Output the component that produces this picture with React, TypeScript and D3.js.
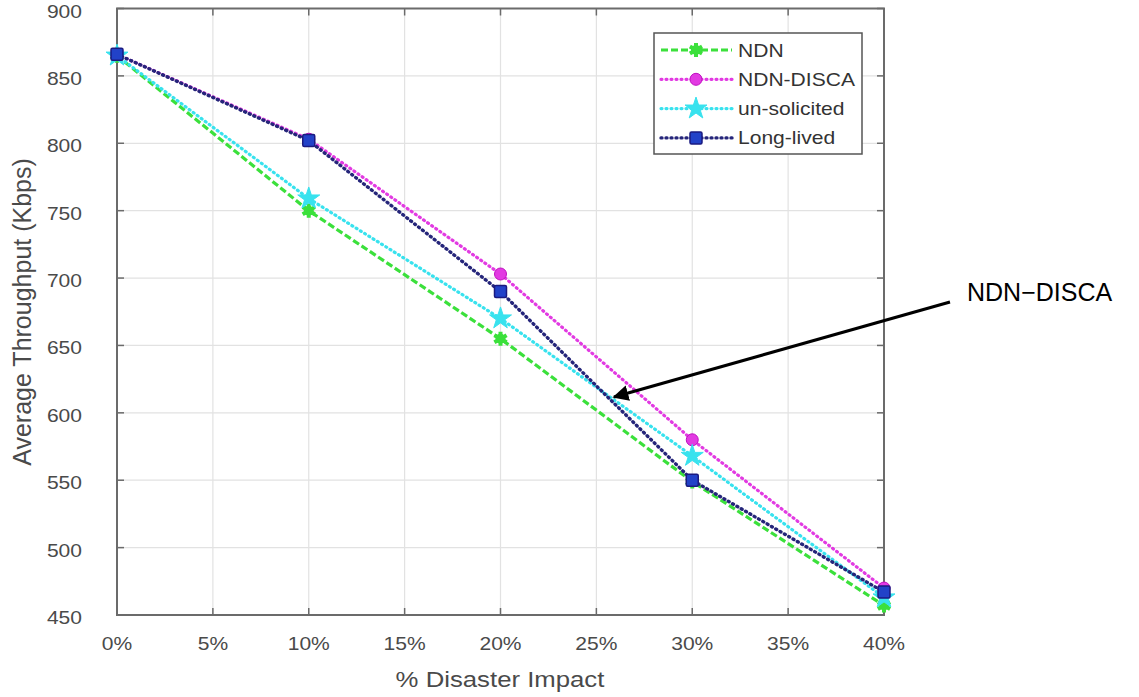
import React from "react";
import * as d3 from "d3";

const impact = [0, 10, 20, 30, 40];
const ndn = [865, 750, 655, 549, 457];
const ndnDisca = [866, 803, 703, 580, 470];
const unsolicited = [865, 759, 670, 568, 463];
const longLived = [866, 802, 690, 550, 467];

const xTicks = [0, 5, 10, 15, 20, 25, 30, 35, 40];
const yTicks = [450, 500, 550, 600, 650, 700, 750, 800, 850, 900];

const series = [
  { name: "NDN", values: ndn, color: "#3be03b", dash: "7,3", width: 3.2, marker: "asterisk" },
  { name: "NDN-DISCA", values: ndnDisca, color: "#e23ae2", dash: "1,4", width: 3.2, marker: "circle" },
  { name: "un-solicited", values: unsolicited, color: "#38e2ee", dash: "1,4", width: 3.2, marker: "star" },
  { name: "Long-lived", values: longLived, color: "#25257a", dash: "1,4", width: 3.4, marker: "square" },
];

const FONT = "'Liberation Sans', Arial, Helvetica, sans-serif";
const STRETCH = 1.17;

function Marker({ kind, x, y, color }: { kind: string; x: number; y: number; color: string }) {
  if (kind === "circle") {
    return <circle cx={x} cy={y} r={6} fill={color} stroke="#c010c0" strokeWidth={1} />;
  }
  if (kind === "square") {
    return (
      <rect x={x - 6} y={y - 6} width={12} height={12} fill="#2242c8" stroke="#1a1a80" strokeWidth={1.5} rx={1.5} />
    );
  }
  if (kind === "star") {
    const d = d3.symbol(d3.symbolStar, 150)() ?? "";
    return <path d={d} transform={`translate(${x},${y})`} fill={color} stroke={color} strokeWidth={1} />;
  }
  const d = d3.symbol(d3.symbolAsterisk, 140)() ?? "";
  return (
    <g transform={`translate(${x},${y})`}>
      <circle r={5} fill={color} />
      <path d={d} fill="none" stroke={color} strokeWidth={4} />
    </g>
  );
}

export default function App() {
  const width = 1139;
  const height = 697;
  const left = 117;
  const right = 884;
  const top = 8.5;
  const bottom = 615;

  const x = d3.scaleLinear().domain([0, 40]).range([left, right]);
  const y = d3.scaleLinear().domain([450, 900]).range([bottom, top]);

  const line = d3
    .line<number>()
    .x((_, i) => x(impact[i]))
    .y((d) => y(d));

  const textColor = "#4a4a4a";
  const frame = "#6b6b6b";

  return (
    <svg
      width={width}
      height={height}
      style={{ position: "absolute", left: 0, top: 0, background: "#fff" }}
      fontFamily={FONT}
    >
      {/* grid */}
      {xTicks.map((t) => (
        <line key={"gx" + t} x1={x(t)} x2={x(t)} y1={top} y2={bottom} stroke="#e2e2e2" strokeWidth={1.2} />
      ))}
      {yTicks.map((t) => (
        <line key={"gy" + t} x1={left} x2={right} y1={y(t)} y2={y(t)} stroke="#e2e2e2" strokeWidth={1.2} />
      ))}

      {/* frame and ticks */}
      <rect x={left} y={top} width={right - left} height={bottom - top} fill="none" stroke={frame} strokeWidth={2} />
      {xTicks.map((t) => (
        <g key={"tx" + t}>
          <line x1={x(t)} x2={x(t)} y1={bottom} y2={bottom - 7} stroke={frame} strokeWidth={1.5} />
          <line x1={x(t)} x2={x(t)} y1={top} y2={top + 7} stroke={frame} strokeWidth={1.5} />
          <text
            transform={`translate(${x(t)},${bottom + 35}) scale(${STRETCH},1)`}
            textAnchor="middle"
            fontSize={18}
            fill={textColor}
          >
            {t + "%"}
          </text>
        </g>
      ))}
      {yTicks.map((t) => (
        <g key={"ty" + t}>
          <line x1={left} x2={left + 7} y1={y(t)} y2={y(t)} stroke={frame} strokeWidth={1.5} />
          <line x1={right} x2={right - 7} y1={y(t)} y2={y(t)} stroke={frame} strokeWidth={1.5} />
          <text
            transform={`translate(82,${y(t) + 9}) scale(${STRETCH},1)`}
            textAnchor="end"
            fontSize={18}
            fill={textColor}
          >
            {t}
          </text>
        </g>
      ))}

      {/* axis labels */}
      <text
        transform={`translate(500,687) scale(${STRETCH},1)`}
        textAnchor="middle"
        fontSize={22}
        fill={textColor}
      >
        % Disaster Impact
      </text>
      <text
        transform={`translate(31,312) rotate(-90)`}
        textAnchor="middle"
        fontSize={25}
        fill={textColor}
      >
        Average Throughput (Kbps)
      </text>

      {/* series */}
      {series.map((s) => (
        <path
          key={s.name}
          d={line(s.values) ?? ""}
          fill="none"
          stroke={s.color}
          strokeWidth={s.width}
          strokeDasharray={s.dash}
          strokeLinecap={s.dash === "7,3" ? "butt" : "round"}
        />
      ))}
      {series.map((s) =>
        s.values.map((v, i) => (
          <Marker key={s.name + i} kind={s.marker} x={x(impact[i])} y={y(v)} color={s.color} />
        ))
      )}

      {/* legend */}
      <rect x={654} y={33} width={208} height={121} fill="#fff" stroke="#555" strokeWidth={1.5} />
      {series.map((s, i) => {
        const cy = 50 + i * 29.3;
        return (
          <g key={"lg" + s.name}>
            <line
              x1={661}
              x2={732}
              y1={cy}
              y2={cy}
              stroke={s.color}
              strokeWidth={s.width}
              strokeDasharray={s.dash}
              strokeLinecap={s.dash === "7,3" ? "butt" : "round"}
            />
            <Marker kind={s.marker} x={696} y={cy} color={s.color} />
            <text
              transform={`translate(738,${cy + 6.5}) scale(${STRETCH},1)`}
              fontSize={18}
              fill="#333"
            >
              {s.name}
            </text>
          </g>
        );
      })}

      {/* annotation */}
      <defs>
        <marker id="arrow" viewBox="0 0 10 10" refX={9} refY={5} markerWidth={5} markerHeight={5} orient="auto">
          <path d="M0,0 L10,5 L0,10 z" fill="#000" />
        </marker>
      </defs>
      <line x1={950} y1={302} x2={614} y2={397} stroke="#000" strokeWidth={3.2} markerEnd="url(#arrow)" />
      <text x={967} y={301} fontSize={25} fill="#000">
        NDN−DISCA
      </text>
    </svg>
  );
}
